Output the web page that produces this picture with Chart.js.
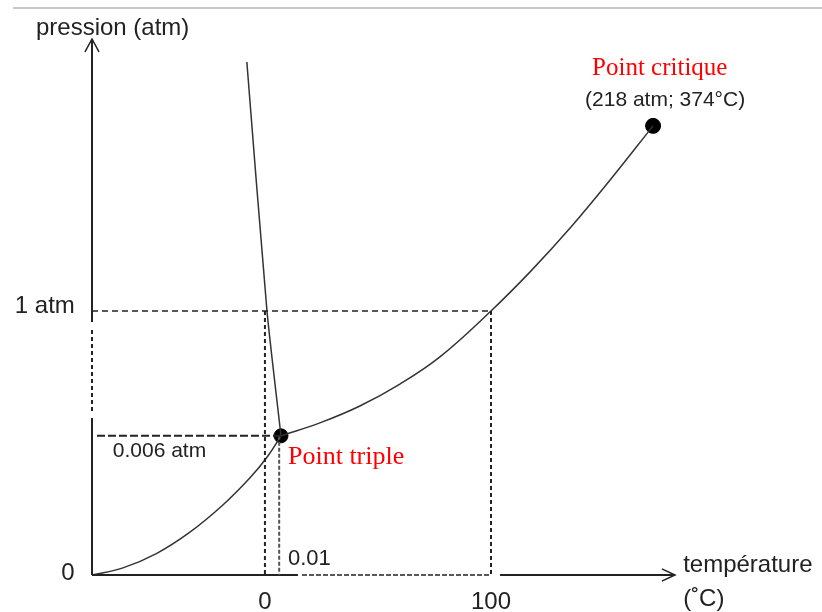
<!DOCTYPE html>
<html>
<head>
<meta charset="utf-8">
<title>Diagramme de phase de l'eau</title>
<script src="https://cdn.jsdelivr.net/npm/chart.js@4.4.1/dist/chart.umd.min.js"></script>
<style>
	html, body { margin: 0; padding: 0; background: #fff; }
	#phase { display: block; }
</style>
</head>
<body>
<canvas id="phase" width="822" height="612"></canvas>
<script>
// schematic units: x = 0 at 0 °C, 100 at 100 °C ; y = 0 at 0 atm, 100 at 1 atm
const sublimationT = [-76.5, -62.8, -47.8, -33.2, -18.6, -6.6, 0.9, 7.1];
const sublimationP = [0, 2.7, 8.2, 16.2, 26.5, 36.8, 44.6, 52.7];

const vaporisationT = [7.1, 24.3, 42.0, 59.7, 77.4, 100, 117.3, 135.0, 152.7, 171.7];
const vaporisationP = [52.7, 57.6, 64.0, 72.3, 82.6, 100, 114.8, 131.4, 149.6, 170.1];

const fusionT = [-8.0, 0.9, 7.1];
const fusionP = [194.3, 100, 52.7];

const tripleT = 7.1, tripleP = 52.7;
const criticalT = 171.7, criticalP = 170.1;

const xMin = -76.5, xMax = 181.4;
const yMin = 0, yMax = 203;

// [text, x, y, align, font, colour]
const labels = [
	['pression (atm)', -101.3, 204.5, 'left', '24px "Liberation Sans"', '#222'],
	['1 atm', -84.1, 99.2, 'right', '24px "Liberation Sans"', '#222'],
	['0', -87.2, -1.9, 'center', '24px "Liberation Sans"', '#222'],
	['0.006 atm', -67.3, 44.7, 'left', '21px "Liberation Sans"', '#222'],
	['Point triple', 10.2, 42.0, 'left', '26px "Liberation Serif"', '#f00'],
	['0.01', 10.2, 3.8, 'left', '22px "Liberation Sans"', '#222'],
	['0', 0, -12.9, 'center', '24px "Liberation Sans"', '#222'],
	['100', 100, -12.9, 'center', '24px "Liberation Sans"', '#222'],
	['température', 185, 1.1, 'left', '24px "Liberation Sans"', '#222'],
	['(˚C)', 185, -11.7, 'left', '24px "Liberation Sans"', '#222'],
	['Point critique', 144.7, 189.4, 'left', '25px "Liberation Serif"', '#f00'],
	['(218 atm; 374°C)', 141.6, 177.7, 'left', '21px "Liberation Sans"', '#222']
];

const pts = (xs, ys) => xs.map((x, i) => ({ x: x, y: ys[i] }));

function line(data, opts) {
	return Object.assign({
		data: data,
		showLine: true,
		borderColor: '#222',
		borderWidth: 1.5,
		pointRadius: 0,
		fill: false,
		clip: false
	}, opts || {});
}

const datasets = [
	// guides
	line([{ x: xMin, y: 100 }, { x: 100, y: 100 }], { borderDash: [6, 4], borderWidth: 1.5 }),
	line([{ x: 0, y: 100 }, { x: 0, y: 0 }], { borderDash: [4, 3], borderWidth: 2 }),
	line([{ x: 100, y: 100 }, { x: 100, y: 0 }], { borderDash: [4, 3], borderWidth: 2 }),
	line([{ x: xMin + 2.2, y: tripleP }, { x: tripleT, y: tripleP }], { borderDash: [8, 3], borderWidth: 2 }),
	line([{ x: 6.3, y: tripleP }, { x: 6.3, y: 0 }], { borderDash: [4, 2], borderWidth: 2, borderColor: '#555' }),

	// axes
	line([{ x: xMin, y: 0 }, { x: xMin, y: 59.5 }], { borderWidth: 2 }),
	line([{ x: xMin, y: 62.1 }, { x: xMin, y: 92.8 }], { borderWidth: 2, borderDash: [4, 3] }),
	line([{ x: xMin, y: 95.8 }, { x: xMin, y: yMax }], { borderWidth: 2 }),
	line([{ x: xMin - 3.1, y: yMax - 4.9 }, { x: xMin, y: yMax }, { x: xMin + 3.1, y: yMax - 4.9 }], { borderWidth: 1.5 }),
	line([{ x: xMin, y: 0 }, { x: 14.6, y: 0 }], { borderWidth: 2 }),
	line([{ x: 16.4, y: 0 }, { x: 99.6, y: 0 }], { borderWidth: 1.5, borderDash: [5, 2] }),
	line([{ x: 104, y: 0 }, { x: xMax, y: 0 }], { borderWidth: 2 }),
	line([{ x: xMax - 5.8, y: 2.3 }, { x: xMax, y: 0 }, { x: xMax - 5.8, y: -2.3 }], { borderWidth: 1.5 }),

	// phase boundaries
	line(pts(sublimationT, sublimationP), { borderColor: '#333', tension: 0.4 }),
	line(pts(vaporisationT, vaporisationP), { borderColor: '#333', tension: 0.4 }),
	line(pts(fusionT, fusionP), { borderColor: '#333', tension: 0.2 }),

	// special points
	{
		data: [{ x: tripleT, y: tripleP }, { x: criticalT, y: criticalP }],
		pointRadius: [7, 7.5],
		pointBackgroundColor: '#000',
		pointBorderColor: '#000',
		showLine: false,
		clip: false
	}
];

const textPlugin = {
	id: 'phaseText',
	beforeDraw(chart) {
		const ctx = chart.ctx;
		ctx.save();
		ctx.strokeStyle = '#c8c8c8';
		ctx.lineWidth = 2;
		ctx.beginPath();
		ctx.moveTo(13, 8);
		ctx.lineTo(822, 8);
		ctx.stroke();
		ctx.restore();
	},
	afterDraw(chart) {
		const ctx = chart.ctx;
		const xs = chart.scales.x, ys = chart.scales.y;
		ctx.save();
		ctx.textBaseline = 'alphabetic';
		labels.forEach(([text, x, y, align, font, colour]) => {
			ctx.font = font;
			ctx.fillStyle = colour;
			ctx.textAlign = align;
			ctx.fillText(text, xs.getPixelForValue(x), ys.getPixelForValue(y));
		});
		ctx.restore();
	}
};

new Chart(document.getElementById('phase'), {
	type: 'scatter',
	data: { datasets: datasets },
	options: {
		responsive: false,
		animation: false,
		devicePixelRatio: 1,
		layout: { padding: { left: 92, right: 147, top: 39, bottom: 37 } },
		plugins: { legend: { display: false }, tooltip: { enabled: false } },
		scales: {
			x: { type: 'linear', min: xMin, max: xMax, display: false },
			y: { type: 'linear', min: yMin, max: yMax, display: false }
		}
	},
	plugins: [textPlugin]
});
</script>
</body>
</html>
